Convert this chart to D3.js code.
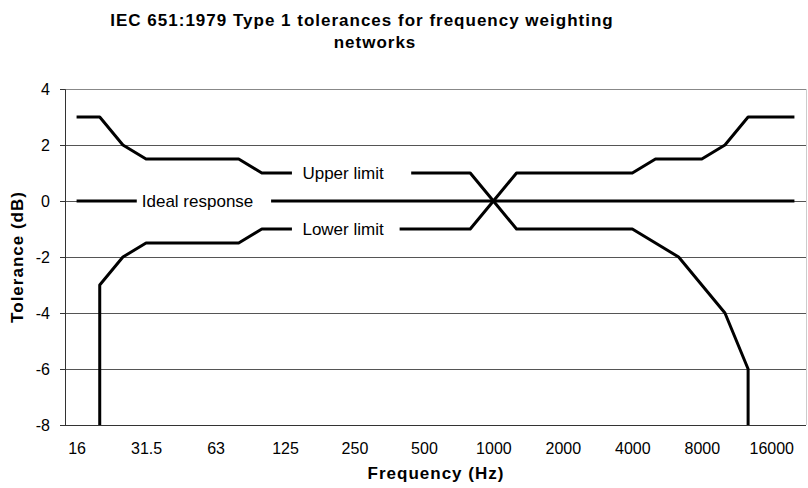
<!DOCTYPE html>
<meta charset="utf-8">
<style>
  body { margin: 0; background: #fff; }
  text { font-family: "Liberation Sans", Arial, sans-serif; fill: #000; }
</style>
<svg width="808" height="488"></svg>
<script src="https://d3js.org/d3.v7.min.js"></script>
<script>

    // 1/3 octave band centre frequencies (Hz)
    var freqs = ['16','20','25','31.5','40','50','63','80','100','125','160','200','250','315','400','500',
                 '630','800','1000','1250','1600','2000','2500','3150','4000','5000','6300','8000','10000',
                 '12500','16000','20000']

    // tolerance limits in dB; -Infinity = no lower limit
    var upperLimit = [3,3,2,1.5,1.5,1.5,1.5,1.5,1,1,1,1,1,1,1,1,1,1,0,1,1,1,1,1,1,1.5,1.5,1.5,2,3,3,3]
    var lowerLimit = [-Infinity,-3,-2,-1.5,-1.5,-1.5,-1.5,-1.5,-1,-1,-1,-1,-1,-1,-1,-1,-1,-1,0,
                      -1,-1,-1,-1,-1,-1,-1.5,-2,-3,-4,-6,-Infinity,-Infinity]
    var idealResponse = freqs.map(function () { return 0 })

    var xTickLabels = ['16','31.5','63','125','250','500','1000','2000','4000','8000','16000']
    var yTicks = [-8,-6,-4,-2,0,2,4]

    // in-chart labels: text, value, from/to in band index units
    var seriesLabels = [
        {text: 'Ideal response', value: 0, from: 2.6, to: 8.4},
        {text: 'Upper limit', value: 1, from: 9.3, to: 14.45},
        {text: 'Lower limit', value: -1, from: 9.3, to: 13.95}
    ]

    var svg = d3.select('svg')
    var plotL = 65, plotR = 806, plotT = 89, plotB = 425
    var fontFam = '"Liberation Sans", Arial, sans-serif'

    var x = d3.scalePoint().domain(freqs).range([plotL, plotR]).padding(0.5)
    var xi = d3.scaleLinear().domain([0, freqs.length - 1]).range([x(freqs[0]), x(freqs[freqs.length - 1])])
    var y = d3.scaleLinear().domain([-8, 4]).range([plotB, plotT])

    svg.append('clipPath').attr('id', 'plot')
        .append('rect').attr('x', plotL).attr('y', plotT).attr('width', plotR - plotL).attr('height', plotB - plotT)

    // gridlines
    svg.append('g').selectAll('line')
        .data(yTicks.filter(function (d) { return d > -8 && d < 4 }))
        .enter().append('line')
        .attr('x1', plotL).attr('x2', plotR)
        .attr('y1', function (d) { return y(d) }).attr('y2', function (d) { return y(d) })
        .attr('stroke', '#555').attr('stroke-width', 1).attr('shape-rendering', 'crispEdges')

    // plot frame top/right
    svg.append('line').attr('x1', plotL).attr('x2', plotR).attr('y1', y(4)).attr('y2', y(4))
        .attr('stroke', '#888').attr('shape-rendering', 'crispEdges')
    svg.append('line').attr('x1', plotR).attr('x2', plotR).attr('y1', plotT).attr('y2', plotB)
        .attr('stroke', '#ccc').attr('shape-rendering', 'crispEdges')

    // y axis (plain hyphen minus like the original)
    var yAxis = svg.append('g').attr('transform', 'translate(' + plotL + ',0)')
        .call(d3.axisLeft(y).tickValues(yTicks).tickSize(5).tickPadding(10)
            .tickFormat(function (d) { return String(d) }))
    yAxis.select('.domain').attr('stroke', '#333')
    yAxis.selectAll('.tick line').attr('stroke', '#333')
    yAxis.selectAll('text').attr('font-size', 16).attr('font-family', fontFam).attr('fill', '#000')

    // x axis
    var xAxis = svg.append('g').attr('transform', 'translate(0,' + plotB + ')')
        .call(d3.axisBottom(x).tickValues(xTickLabels).tickSize(0).tickPadding(18))
    xAxis.select('.domain').attr('stroke', '#333').attr('d', 'M' + plotL + ',0.5H' + plotR)
    xAxis.selectAll('text').attr('font-size', 16).attr('font-family', fontFam).attr('fill', '#000')

    // lines
    function toPoints(values) {
        return values.map(function (v, i) {
            if (v === -Infinity) {
                // drop straight down from the nearest finite point
                var j = i
                while (j >= 0 && values[j] === -Infinity) j--
                if (j < 0) { j = i; while (values[j] === -Infinity) j++ }
                return [x(freqs[j]), plotB + 10]
            }
            return [x(freqs[i]), y(v)]
        })
    }
    var line = d3.line()

    var lines = svg.append('g').attr('clip-path', 'url(#plot)')
    ;[upperLimit, idealResponse, lowerLimit].forEach(function (s) {
        lines.append('path')
            .attr('d', line(toPoints(s)))
            .attr('fill', 'none').attr('stroke', '#000').attr('stroke-width', 3)
            .attr('stroke-linejoin', 'round')
    })

    // labels sitting on the lines
    var lab = svg.append('g').selectAll('g').data(seriesLabels).enter().append('g')
    lab.append('rect')
        .attr('x', function (d) { return xi(d.from) })
        .attr('width', function (d) { return xi(d.to) - xi(d.from) })
        .attr('y', function (d) { return y(d.value) - 9 })
        .attr('height', 18)
        .attr('fill', '#fff')
    lab.append('text')
        .attr('x', function (d) { return xi(d.from) + (d.value === 0 ? 5 : 10.5) })
        .attr('y', function (d) { return y(d.value) })
        .attr('dy', '0.35em')
        .attr('font-size', 17)
        .text(function (d) { return d.text })

    // titles
    function boldText(sel) {
        return sel.attr('text-anchor', 'middle').attr('font-size', 17)
            .attr('font-weight', 'bold').attr('letter-spacing', 1)
    }
    svg.append('text').attr('x', 362).attr('y', 26).call(boldText)
        .text('IEC 651:1979 Type 1 tolerances for frequency weighting')
    svg.append('text').attr('x', 375).attr('y', 48).call(boldText)
        .text('networks')
    svg.append('text').attr('x', 436).attr('y', 479).call(boldText)
        .text('Frequency (Hz)')
    svg.append('text').attr('transform', 'translate(23,' + y(-2) + ') rotate(-90)').call(boldText)
        .text('Tolerance (dB)')

</script>
